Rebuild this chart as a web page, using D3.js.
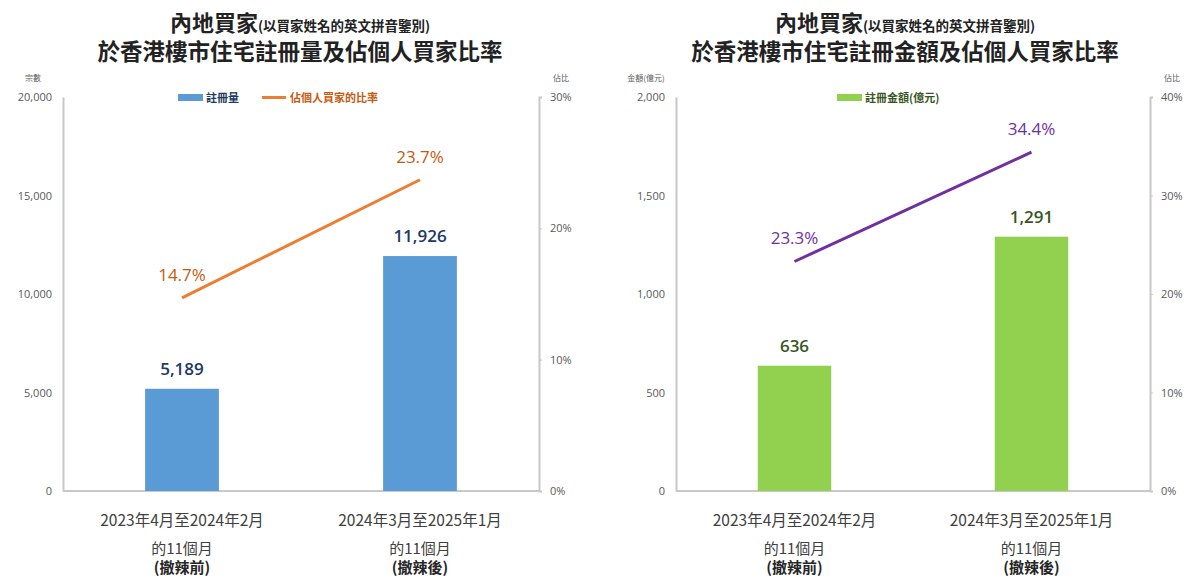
<!DOCTYPE html>
<html>
<head>
<meta charset="utf-8">
<script src="https://cdn.jsdelivr.net/npm/d3@7"></script>
<style>
  body { margin: 0; background: #fff; }
  svg { display: block; font-family: "Noto Sans CJK TC", "Noto Sans", sans-serif; }
</style>
</head>
<body>
<svg id="chart" width="1200" height="583"></svg>
<script>
// data
var periods = ['2023年4月至2024年2月', '2024年3月至2025年1月']
var periodLine2 = ['的11個月', '的11個月']
var periodLine3 = ['(撤辣前)', '(撤辣後)']

var regCounts = [5189, 11926]
var regAmounts = [636, 1291]          // 億元
var countShare = [14.7, 23.7]          // %
var amountShare = [23.3, 34.4]         // %

var countTicks = [0, 5000, 10000, 15000, 20000]
var amountTicks = [0, 500, 1000, 1500, 2000]
var countShareTicks = [0, 10, 20, 30]
var amountShareTicks = [0, 10, 20, 30, 40]

var svg = d3.select('#chart')

var charts = [
  {
    left: 63, right: 539, center: 300,
    title2: '於香港樓市住宅註冊量及佔個人買家比率',
    leftTitle: '宗數', bars: regCounts, barMax: 20000, barTicks: countTicks,
    line: countShare, lineMax: 30, lineTicks: countShareTicks,
    barColor: '#5B9BD5', barLabelColor: '#203864',
    lineColor: '#ED7D31', lineLabelColor: '#C55A11',
    legend: [
      {type: 'rect', x: 178, color: '#5B9BD5', text: '註冊量', textColor: '#203864'},
      {type: 'line', x: 262, color: '#ED7D31', text: '佔個人買家的比率', textColor: '#C55A11'}
    ]
  },
  {
    left: 676, right: 1150, center: 905,
    title2: '於香港樓市住宅註冊金額及佔個人買家比率',
    leftTitle: '金額(億元)', bars: regAmounts, barMax: 2000, barTicks: amountTicks,
    line: amountShare, lineMax: 40, lineTicks: amountShareTicks,
    barColor: '#92D050', barLabelColor: '#375623',
    lineColor: '#7030A0', lineLabelColor: '#7030A0',
    legend: [
      {type: 'rect', x: 837, color: '#92D050', text: '註冊金額(億元)', textColor: '#375623'}
    ]
  }
]

var plotTop = 97, plotBottom = 491

charts.forEach(function (c) {
  var g = svg.append('g')

  // title
  var t1 = g.append('text').
    attr('x', c.center).
    attr('y', 31).
    attr('text-anchor', 'middle').
    attr('fill', '#222').
    attr('font-weight', 'bold')
  t1.append('tspan').attr('font-size', 22).text('內地買家')
  t1.append('tspan').attr('font-size', 13.5).text('(以買家姓名的英文拼音鑒別)')

  g.append('text').
    attr('x', c.center).
    attr('y', 60).
    attr('text-anchor', 'middle').
    attr('font-size', 22.5).
    attr('font-weight', 'bold').
    attr('fill', '#222').
    text(c.title2)

  var x = d3.scaleBand().
    domain(periods).
    range([c.left, c.right]).
    paddingInner(0).
    paddingOuter(0)

  var yBar = d3.scaleLinear().domain([0, c.barMax]).range([plotBottom, plotTop])
  var yLine = d3.scaleLinear().domain([0, c.lineMax]).range([plotBottom, plotTop])

  // left axis
  var leftAxis = g.append('g').
    attr('transform', 'translate(' + c.left + ',0)').
    call(d3.axisLeft(yBar).tickValues(c.barTicks).tickSize(0).tickPadding(11).
      tickFormat(d3.format(',')))
  leftAxis.select('.domain').attr('stroke', '#c8c8c8').attr('stroke-width', 2)
  leftAxis.selectAll('text').attr('fill', '#595959').attr('font-size', 11).
    attr('font-family', '"Open Sans", sans-serif')

  // right axis
  var rightAxis = g.append('g').
    attr('transform', 'translate(' + c.right + ',0)').
    call(d3.axisRight(yLine).tickValues(c.lineTicks).tickSize(3).tickPadding(8).
      tickFormat(function (d) { return d + '%' }))
  rightAxis.select('.domain').attr('stroke', '#c8c8c8').attr('stroke-width', 2)
  rightAxis.selectAll('line').attr('stroke', '#c8c8c8')
  rightAxis.selectAll('text').attr('fill', '#595959').attr('font-size', 11).
    attr('font-family', '"Open Sans", sans-serif')

  // bottom baseline
  g.append('line').
    attr('x1', c.left).attr('x2', c.right).
    attr('y1', plotBottom).attr('y2', plotBottom).
    attr('stroke', '#c8c8c8').attr('stroke-width', 2)

  // axis titles
  g.append('text').
    attr('x', c.left - 30).attr('y', 81).
    attr('text-anchor', 'middle').
    attr('font-size', 8).attr('fill', '#595959').
    text(c.leftTitle)
  g.append('text').
    attr('x', c.right + 22).attr('y', 81).
    attr('text-anchor', 'middle').
    attr('font-size', 8).attr('fill', '#595959').
    text('佔比')

  // bars
  var bw = x.bandwidth() * 0.31
  g.selectAll('rect.bar').
    data(c.bars).
    enter().
    append('rect').
    attr('class', 'bar').
    attr('x', function (d, i) { return x(periods[i]) + x.bandwidth() / 2 - bw / 2 }).
    attr('y', function (d) { return yBar(d) }).
    attr('width', bw).
    attr('height', function (d) { return plotBottom - yBar(d) }).
    attr('fill', c.barColor)

  g.selectAll('text.barlabel').
    data(c.bars).
    enter().
    append('text').
    attr('class', 'barlabel').
    attr('x', function (d, i) { return x(periods[i]) + x.bandwidth() / 2 }).
    attr('y', function (d) { return yBar(d) - 14 }).
    attr('text-anchor', 'middle').
    attr('font-size', 17).
    attr('font-weight', 600).
    attr('font-family', '"Open Sans", sans-serif').
    attr('fill', c.barLabelColor).
    text(d3.format(','))

  // line
  var lineGen = d3.line().
    x(function (d, i) { return x(periods[i]) + x.bandwidth() / 2 }).
    y(function (d) { return yLine(d) })

  g.append('path').
    datum(c.line).
    attr('d', lineGen).
    attr('fill', 'none').
    attr('stroke', c.lineColor).
    attr('stroke-width', 3)

  g.selectAll('text.linelabel').
    data(c.line).
    enter().
    append('text').
    attr('class', 'linelabel').
    attr('x', function (d, i) { return x(periods[i]) + x.bandwidth() / 2 }).
    attr('y', function (d) { return yLine(d) - 17 }).
    attr('text-anchor', 'middle').
    attr('font-size', 17).
    attr('font-family', '"Open Sans", sans-serif').
    attr('fill', c.lineLabelColor).
    text(function (d) { return d.toFixed(1) + '%' })

  // category labels
  periods.forEach(function (p, i) {
    var cx = x(p) + x.bandwidth() / 2
    g.append('text').attr('x', cx).attr('y', 526).attr('text-anchor', 'middle').
      attr('font-size', 15.5).attr('fill', '#404040').text(p)
    g.append('text').attr('x', cx).attr('y', 554).attr('text-anchor', 'middle').
      attr('font-size', 15).attr('fill', '#404040').text(periodLine2[i])
    g.append('text').attr('x', cx).attr('y', 573).attr('text-anchor', 'middle').
      attr('font-size', 15).attr('font-weight', 'bold').attr('fill', '#262626').
      text(periodLine3[i])
  })

  // legend
  c.legend.forEach(function (l) {
    if (l.type === 'rect') {
      g.append('rect').attr('x', l.x).attr('y', 94).attr('width', 25).attr('height', 7).
        attr('fill', l.color)
    } else {
      g.append('line').attr('x1', l.x).attr('x2', l.x + 24).attr('y1', 97.5).attr('y2', 97.5).
        attr('stroke', l.color).attr('stroke-width', 3)
    }
    g.append('text').attr('x', l.x + 28).attr('y', 102).
      attr('font-size', 11).attr('font-weight', 'bold').attr('fill', l.textColor).
      text(l.text)
  })
})
</script>
</body>
</html>
